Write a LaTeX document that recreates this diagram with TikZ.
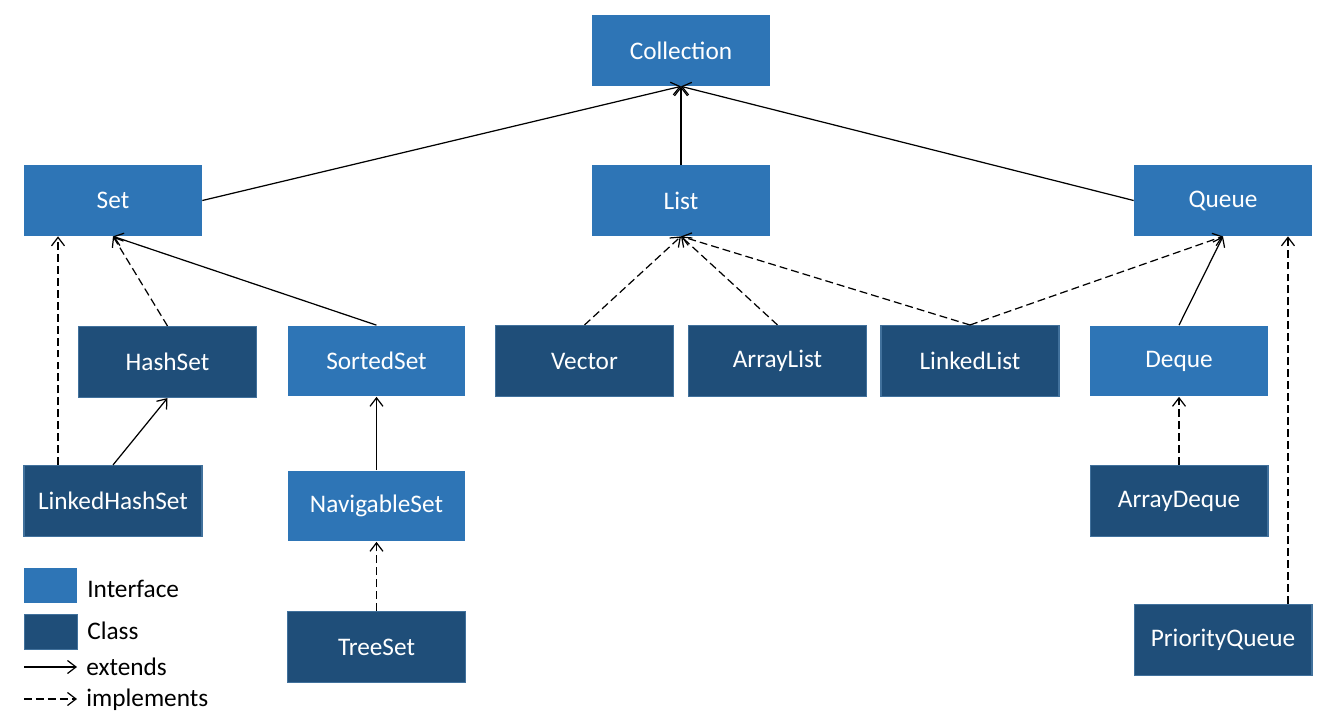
\documentclass[tikz,border=0pt]{standalone}
\usepackage{fontspec}
\setmainfont{Carlito}
\usetikzlibrary{arrows.meta}
\definecolor{ifc}{HTML}{2E75B6}
\definecolor{cls}{HTML}{1F4E79}
\definecolor{clsborder}{HTML}{41719C}
\tikzset{
  box/.style={minimum width=3.56cm, minimum height=1.42cm, inner sep=0pt, text=white,
    font=\fontsize{14.4}{17}\selectfont},
  iface/.style={box, fill=ifc},
  klass/.style={box, fill=cls, draw=clsborder, line width=0.6pt},
  ext/.style={draw=black, line width=0.7pt, -{Straight Barb[length=1.7mm,width=2.6mm,line width=0.7pt]}},
  impl/.style={ext, dash pattern=on 4.5pt off 2.3pt},
  legtext/.style={anchor=west, inner sep=0pt, font=\fontsize{14.4}{17}\selectfont},
  legbox/.style={minimum width=1.06cm, minimum height=0.7cm, inner sep=0pt, anchor=north west}
}
\begin{document}
\begin{tikzpicture}[x=0.02cm, y=-0.02cm]
\useasboundingbox (0,0) rectangle (1343,727);
% interfaces
\node[iface] (Collection) at (681,50.5) {Collection};
\node[iface] (Set) at (113,200.5) {Set};
\node[iface] (List) at (681,200.5) {List};
\node[iface] (Queue) at (1223,200.5) {Queue};
\node[iface] (SortedSet) at (376.5,361) {SortedSet};
\node[iface] (Deque) at (1179,361) {Deque};
\node[iface] (NavigableSet) at (376.5,506) {NavigableSet};
% classes
\node[klass] (HashSet) at (167.5,362) {HashSet};
\node[klass] (Vector) at (584.5,361) {Vector};
\node[klass] (ArrayList) at (777.5,361) {ArrayList};
\node[klass] (LinkedList) at (970,361) {LinkedList};
\node[klass] (LinkedHashSet) at (113,501) {LinkedHashSet};
\node[klass] (ArrayDeque) at (1179,501) {ArrayDeque};
\node[klass] (TreeSet) at (376.5,647) {TreeSet};
\node[klass] (PriorityQueue) at (1223,640) {PriorityQueue};
% connectors
\draw[ext] (Set.east) -- (Collection.south);
\draw[ext] (List.north) -- (Collection.south);
\draw[ext] (Queue.west) -- (Collection.south);
\draw[impl] ([xshift=-1.1cm]LinkedHashSet.north) -- ([xshift=-1.1cm]Set.south);
\draw[impl] (HashSet.north) -- (Set.south);
\draw[ext] (SortedSet.north) -- (Set.south);
\draw[ext] (LinkedHashSet.north) -- (HashSet.south);
\draw[ext] (NavigableSet.north) -- (SortedSet.south);
\draw[impl] (TreeSet.north) -- (NavigableSet.south);
\draw[impl] (Vector.north) -- (List.south);
\draw[impl] (ArrayList.north) -- (List.south);
\draw[impl] (LinkedList.north) -- (List.south);
\draw[impl] (LinkedList.north) -- (Queue.south);
\draw[ext] (Deque.north) -- (Queue.south);
\draw[impl] (ArrayDeque.north) -- (Deque.south);
\draw[impl] ([xshift=1.3cm]PriorityQueue.north) -- ([xshift=1.3cm]Queue.south);
% legend
\node[legbox, fill=ifc] (legI) at (24,568) {};
\node[legbox, fill=cls, draw=clsborder, line width=0.6pt] (legC) at (24,614) {};
\node[legtext] (legIt) at (87,589) {Interface};
\node[legtext] (legCt) at (87,631) {Class};
\coordinate (e1) at (24,667);
\coordinate (e2) at (77,667);
\coordinate (i1) at (24,699);
\coordinate (i2) at (77,699);
\draw[ext] (e1) -- (e2);
\draw[impl] (i1) -- (i2);
\node[legtext] (legEt) at (86,667) {extends};
\node[legtext] (legImt) at (86,700) {implements};
\end{tikzpicture}
\end{document}
